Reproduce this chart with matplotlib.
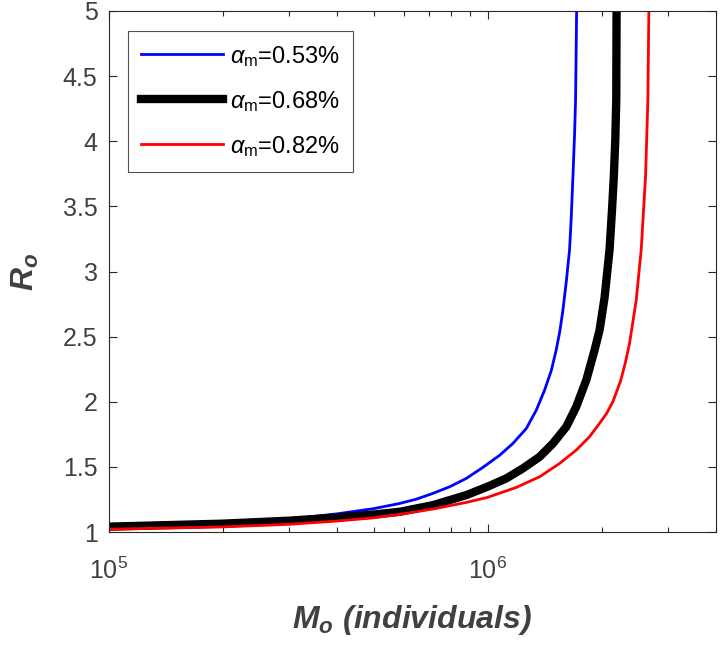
import numpy as np
import matplotlib
matplotlib.use("Agg")
import matplotlib.pyplot as plt

plt.rcParams['font.family'] = ['Liberation Sans', 'DejaVu Sans']
plt.rcParams['mathtext.fontset'] = 'custom'
plt.rcParams['mathtext.rm'] = 'Liberation Sans'
plt.rcParams['mathtext.it'] = 'Liberation Sans:italic'
plt.rcParams['mathtext.bf'] = 'Liberation Sans:italic:bold'

# values
m_blue = [1e5, 1.5e5, 2e5, 3e5, 4e5, 5e5, 5.86e5, 6.485e5, 7.17e5, 7.94e5, 8.785e5,
          9.72e5, 1.076e6, 1.166e6, 1.265e6, 1.345e6, 1.414e6, 1.473e6, 1.518e6,
          1.551e6, 1.58e6, 1.613e6, 1.646e6, 1.663e6, 1.68e6, 1.697e6, 1.707e6,
          1.718e6, 1.722e6]
r_blue = [1.042, 1.056, 1.07, 1.10, 1.14, 1.18, 1.22, 1.253, 1.297, 1.348, 1.412,
          1.497, 1.59, 1.68, 1.795, 1.937, 2.09, 2.24, 2.40,
          2.54, 2.70, 2.92, 3.17, 3.42, 3.73, 4.06, 4.32,
          5.0, 5.3]

m_black = [1e5, 2e5, 3e5, 4e5, 5e5, 5.86e5, 7.17e5, 8.785e5, 9.98e5, 1.12e6,
           1.239e6, 1.372e6, 1.487e6, 1.613e6, 1.714e6, 1.822e6, 1.916e6, 1.975e6,
           2.036e6, 2.099e6, 2.128e6, 2.154e6, 2.173e6, 2.186e6, 2.19e6, 2.193e6]
r_black = [1.042, 1.065, 1.088, 1.112, 1.135, 1.156, 1.207, 1.284, 1.348, 1.412,
           1.489, 1.578, 1.68, 1.808, 1.962, 2.167, 2.397, 2.55,
           2.80, 3.17, 3.45, 3.73, 4.01, 4.32, 5.0, 5.3]

m_red = [1e5, 2e5, 3e5, 4e5, 5e5, 5.86e5, 7.17e5, 8.785e5, 9.98e5, 1.19e6,
         1.372e6, 1.549e6, 1.714e6, 1.858e6, 1.975e6, 2.06e6, 2.141e6, 2.244e6,
         2.31e6, 2.37e6, 2.468e6, 2.544e6, 2.612e6, 2.649e6, 2.665e6, 2.668e6]
r_red = [1.022, 1.04, 1.06, 1.085, 1.11, 1.136, 1.177, 1.228, 1.266, 1.343,
         1.425, 1.527, 1.63, 1.732, 1.835, 1.91, 2.00, 2.16,
         2.30, 2.45, 2.78, 3.17, 3.73, 4.32, 5.0, 5.3]

labels = [r'$\alpha_{\rm m}$=0.53%', r'$\alpha_{\rm m}$=0.68%', r'$\alpha_{\rm m}$=0.82%']
yticks = [1, 1.5, 2, 2.5, 3, 3.5, 4, 4.5, 5]

fig = plt.figure(figsize=(7.2, 6.45), dpi=100)
ax = fig.add_axes([0.151, 0.175, 0.843, 0.808])

ax.plot(m_blue, r_blue, color='#0000ff', lw=2.0, label=labels[0])
ax.plot(m_black, r_black, color='black', lw=6.0, label=labels[1])
ax.plot(m_red, r_red, color='#ff0000', lw=2.0, label=labels[2])

ax.set_xscale('log')
ax.set_xlim(1e5, 4e6)
ax.set_ylim(1, 5)
ax.set_yticks(yticks)
ax.set_yticklabels([f'{v:g}' for v in yticks])

gray = '#404040'
ax.tick_params(which='both', direction='in', top=True, right=True,
               colors='#262626', labelcolor=gray, labelsize=18)
ax.tick_params(which='major', length=6, width=0.8)
ax.tick_params(which='minor', length=3.5, width=0.8)
ax.tick_params(axis='x', pad=18)
ax.tick_params(axis='y', pad=8)
for s in ax.spines.values():
    s.set_color('#262626')
    s.set_linewidth(0.8)

ax.set_xlabel(r'M$_{\bf o}$ (individuals)', fontsize=23, fontweight='bold',
              style='italic', color=gray, labelpad=14)
ax.set_ylabel(r'R$_{\bf o}$', fontsize=23, fontweight='bold',
              style='italic', color=gray, labelpad=16)

leg = ax.legend(loc='upper left', bbox_to_anchor=(0.031, 0.962), borderaxespad=0,
                fontsize=17, frameon=True, fancybox=False, handlelength=3.5,
                handletextpad=0.3, labelspacing=0.85, borderpad=0.55)
leg.get_frame().set_edgecolor('#262626')
leg.get_frame().set_linewidth(0.8)

fig.savefig('out.png', dpi=100)
